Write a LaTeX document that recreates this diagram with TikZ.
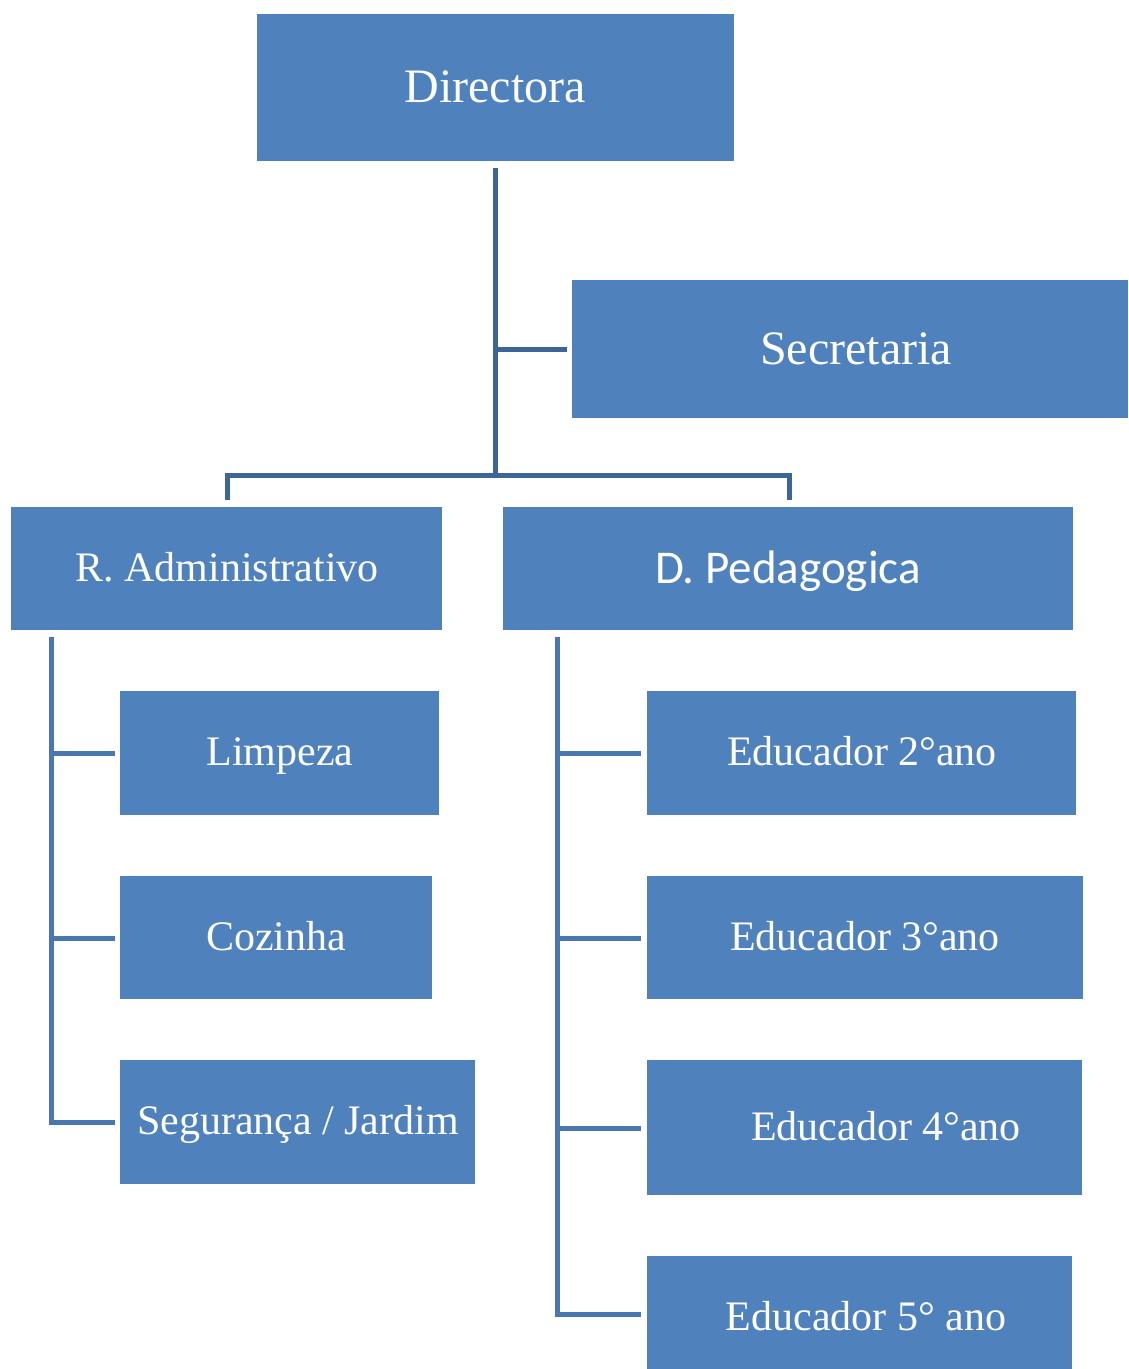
\documentclass[tikz,border=0pt]{standalone}
\usepackage{fontspec}
\setmainfont{Liberation Serif}
\newfontfamily\calib{Carlito}
\definecolor{boxblue}{HTML}{4F81BD}
\definecolor{linetop}{HTML}{3D6596}
\definecolor{linelow}{HTML}{4A77AF}
\begin{document}
\begin{tikzpicture}[x=1pt,y=-1pt,
  orgbox/.style={draw=none,fill=boxblue,inner sep=0pt},
  lbl/.style={text=white,inner sep=0pt,anchor=base,font=\fontsize{42}{50}\selectfont},
  biglbl/.style={text=white,inner sep=0pt,anchor=base,font=\fontsize{48}{57}\selectfont},
  toplink/.style={draw=linetop,line width=5pt},
  lowlink/.style={draw=linelow,line width=5pt}]
\useasboundingbox (0,0) rectangle (1128,1369);
\fill[white] (0,0) rectangle (1128,1369);
% boxes
\path[orgbox] (257,14) rectangle (734,161) node[pos=0.5,name=dir]{};
\path[orgbox] (572,280) rectangle (1128,418) node[pos=0.5,name=sec]{};
\path[orgbox] (11,507) rectangle (442,630) node[pos=0.5,name=adm]{};
\path[orgbox] (503,507) rectangle (1073,630) node[pos=0.5,name=ped]{};
\path[orgbox] (120,691) rectangle (439,815) node[pos=0.5,name=lim]{};
\path[orgbox] (120,876) rectangle (432,999) node[pos=0.5,name=coz]{};
\path[orgbox] (120,1060) rectangle (475,1184) node[pos=0.5,name=seg]{};
\path[orgbox] (647,691) rectangle (1076,815) node[pos=0.5,name=ed2]{};
\path[orgbox] (647,876) rectangle (1083,999) node[pos=0.5,name=ed3]{};
\path[orgbox] (647,1060) rectangle (1082,1195) node[pos=0.5,name=ed4]{};
\path[orgbox] (647,1256) rectangle (1072,1369) node[pos=0.5,name=ed5]{};
% texts
\node[biglbl] (tdir) at (495,102) {Directora};
\node[biglbl] (tsec) at (856,364) {Secretaria};
\node[lbl] (tadm) at (227,581) {R. Administrativo};
\node[text=white,inner sep=0pt,anchor=base,font=\calib\fontsize{47}{56}\selectfont] (tped) at (788,583) {D. Pedagogica};
\node[lbl] (tlim) at (280,765) {Limpeza};
\node[lbl] (tcoz) at (276,950) {Cozinha};
\node[lbl] (tseg) at (298,1134) {Segurança / Jardim};
\node[lbl] (ted2) at (862,765) {Educador 2°ano};
\node[lbl] (ted3) at (865,950) {Educador 3°ano};
\node[lbl] (ted4) at (886,1140) {Educador 4°ano};
\node[lbl] (ted5) at (866,1330) {Educador 5° ano};
% connector coordinates
\coordinate (dtop) at (495,168);
\coordinate (dmid) at (495,349);
\coordinate (dbot) at (495,475);
\coordinate (secin) at (567,349);
\coordinate (la) at (227,475);
\coordinate (ra) at (789,475);
\coordinate (lad) at (227,500);
\coordinate (rad) at (789,500);
\coordinate (ls0) at (51,637);
\coordinate (ls1) at (51,753);
\coordinate (ls2) at (51,938);
\coordinate (ls3) at (51,1122);
\coordinate (lb1) at (115,753);
\coordinate (lb2) at (115,938);
\coordinate (lb3) at (115,1122);
\coordinate (rs0) at (557,637);
\coordinate (rs1) at (557,753);
\coordinate (rs2) at (557,938);
\coordinate (rs3) at (557,1128);
\coordinate (rs4) at (557,1314);
\coordinate (rb1) at (641,753);
\coordinate (rb2) at (641,938);
\coordinate (rb3) at (641,1128);
\coordinate (rb4) at (641,1314);
% connectors
\draw[toplink] (dtop) -- (dbot);
\draw[toplink] (dmid) -- (secin);
\draw[toplink] (lad) -- (la) -- (ra) -- (rad);
\draw[lowlink] (ls0) -- (ls3) -- (lb3);
\draw[lowlink] (ls1) -- (lb1);
\draw[lowlink] (ls2) -- (lb2);
\draw[lowlink] (rs0) -- (rs4) -- (rb4);
\draw[lowlink] (rs1) -- (rb1);
\draw[lowlink] (rs2) -- (rb2);
\draw[lowlink] (rs3) -- (rb3);
\end{tikzpicture}
\end{document}
